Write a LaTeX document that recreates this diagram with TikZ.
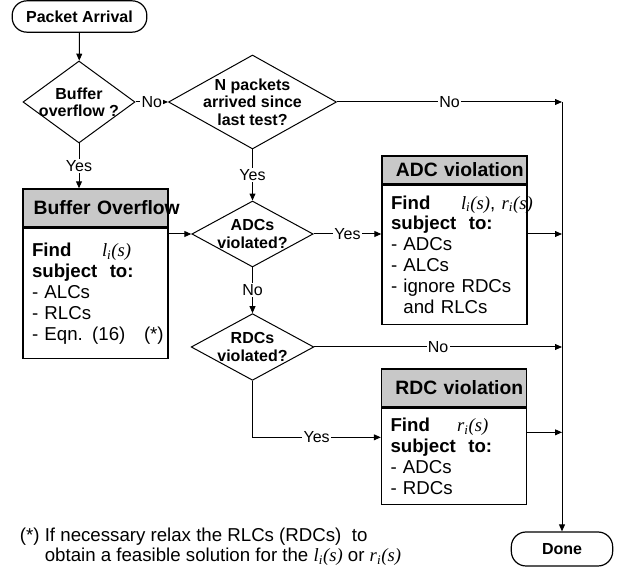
\documentclass[tikz,border=0pt]{standalone}
\usepackage{fontspec}
\setmainfont{Liberation Sans}
\newfontfamily\tmsfont{Liberation Serif}
\usetikzlibrary{shapes.geometric,arrows.meta,calc,positioning}
\definecolor{hdrgray}{RGB}{200,200,200}
\newcommand{\fof}[1]{{\tmsfont\itshape #1\textsubscript{i}(s)}}

\tikzset{every picture/.style={line width=0.75pt}}
\tikzset{
	terminal/.style={draw, rounded corners=11pt, minimum width=101pt, minimum height=23.5pt, line width=0.9pt, font=\fontsize{12}{14}\selectfont\bfseries},
	decision/.style={draw, diamond, inner sep=0pt},
	dtext/.style={align=center, inner sep=0pt, font=\fontsize{12}{13}\selectfont\bfseries},
	header/.style={draw, fill=hdrgray, line width=1pt, text width=108.75pt, inner xsep=0pt, align=center, minimum height=28.5pt, font=\fontsize{14.5}{16}\selectfont\bfseries},
	panel/.style={draw, line width=1pt, text width=95.25pt, inner xsep=6.75pt, align=left, font=\fontsize{14}{15.75}\selectfont},
	lbl/.style={fill=white, inner sep=1pt, font=\fontsize{12}{14}\selectfont},
	flow/.style={-{Triangle[length=5.2pt,width=4.4pt]}},
}

\begin{document}
\begin{tikzpicture}[x=0.75pt,y=0.75pt,yscale=-1,xscale=1]
	\useasboundingbox (0,0) rectangle (619,573);

	%Shape: Terminals
	\node[terminal] (arrive) at (79.5,16.5) {Packet Arrival};
	\node[terminal, minimum width=76pt, minimum height=25.5pt] (done) at (562,549) {Done};

	%Shape: Diamonds
	\node[decision, minimum width=84pt, minimum height=61.5pt, label={[dtext]center:Buffer\\overflow ?}] (ovf) at (79,102) {};
	\node[decision, minimum width=126pt, minimum height=70.5pt, label={[dtext]center:N packets\\arrived since\\last test?}] (npk) at (252.5,102) {};
	\node[decision, minimum width=91pt, minimum height=49.5pt, label={[dtext]center:ADCs\\violated?}] (adc) at (252.5,234) {};
	\node[decision, minimum width=92pt, minimum height=50pt, label={[dtext]center:RDCs\\violated?}] (rdc) at (252.5,347) {};

	%Shape: Boxes
	\node[header] (bo-h) at (95.5,208) {\mbox{\hspace*{8pt}Buffer Overflow}};
	\node[panel, minimum height=97.5pt, below=0pt of bo-h] (bo) {\mbox{\makebox[52.5pt][l]{\textbf{Find}}\fof{l}}\\\textbf{subject\ \ to:}\\- ALCs\\- RLCs\\\mbox{- Eqn. (16)\quad(*)}};
	\node[header, minimum height=21pt] (ad-h) at (454.5,170) {\mbox{\hspace*{8pt}ADC violation}};
	\node[panel, minimum height=104.25pt, below=0pt of ad-h] (ad) {\mbox{\makebox[52.5pt][l]{\textbf{Find}}\fof{l}, \fof{r}}\\\textbf{subject\ \ to:}\\- ADCs\\- ALCs\\- ignore RDCs\\\hphantom{-}\ and RLCs};
	\node[header] (rd-h) at (454,388) {\mbox{\hspace*{8pt}RDC violation}};
	\node[panel, minimum height=72pt, below=0pt of rd-h] (rd) {\mbox{\makebox[50pt][l]{\textbf{Find}}\fof{r}}\\\textbf{subject\ \ to:}\\- ADCs\\- RDCs};

	\coordinate (bus) at (562,102);
	\coordinate (rdin) at ($(rd.west)+(0,-19)$);
	\coordinate (rdout) at ($(rd.east)+(0,-24)$);

	%Straight Lines
	\draw[flow] (arrive) -- (ovf);
	\draw[flow] (ovf) -- node[lbl]{No} (npk);
	\draw[flow] (npk) -- node[lbl]{No} (bus);
	\draw[flow] (bus) -- (done);
	\draw[flow] (ovf.south) -- node[lbl]{Yes} (ovf.south |- bo-h.north);
	\draw[flow] (npk) -- node[lbl]{Yes} (adc);
	\draw[flow] (bo.east |- adc) -- (adc);
	\draw[flow] (adc) -- node[lbl]{Yes} (ad.west |- adc);
	\draw[flow] (ad.east |- adc) -- (bus |- adc);
	\draw[flow] (adc) -- node[lbl]{No} (rdc);
	\draw[flow] (rdc) -- node[lbl]{No} (bus |- rdc);
	\draw[flow] (rdc) |- node[lbl, pos=0.75]{Yes} (rdin);
	\draw[flow] (rdout) -- (bus |- rdout);

	% Text Node
	\node[anchor=west, align=left, font=\fontsize{14}{15}\selectfont] (note) at (15,547) {(*) If necessary relax the RLCs (RDCs)\ \ to\\\hphantom{(*)}\ obtain a feasible solution for the \fof{l} or \fof{r}};

\end{tikzpicture}
\end{document}
